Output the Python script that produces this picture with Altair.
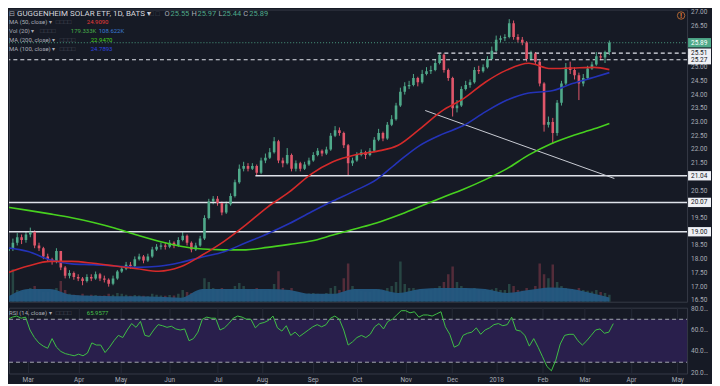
import altair as alt
import pandas as pd

# ---------------- data ----------------
FIRST_BAR = -11          # trading-day index of first 2-day candle (0 = 1 Mar 2017)
BAR_STEP = 2
first_open = 18.3
close = [18.4, 18.6, 18.8, 18.7, 18.9, 19.0, 18.5, 18.4, 18.1, 18.0,
         17.9, 18.3, 17.7, 17.4, 17.5, 17.35, 17.3, 17.2, 17.35, 17.3,
         17.45, 17.3, 17.25, 17.1, 17.3, 17.55, 17.65, 17.8, 17.75, 18.0,
         18.1, 17.95, 18.1, 18.35, 18.45, 18.5, 18.45, 18.6, 18.5, 18.7,
         18.85, 18.6, 18.35, 18.5, 18.75, 19.5, 20.1, 20.2, 20.05, 19.7,
         20.0, 20.3, 20.8, 21.3, 21.4, 21.3, 21.4, 21.15, 21.6, 21.7,
         21.9, 22.3, 21.6, 21.5, 21.8, 21.3, 21.5, 21.3, 21.45, 21.6,
         21.8, 21.95, 21.85, 22.0, 22.5, 22.7, 22.6, 22.15, 21.5, 21.6,
         21.8, 21.9, 21.8, 21.95, 22.35, 22.6, 22.4, 22.9, 23.1, 23.6,
         24.1, 24.3, 24.35, 24.6, 24.45, 24.75, 24.85, 24.9, 25.15, 25.45,
         24.9, 24.6, 23.5, 23.6, 24.2, 24.35, 24.45, 24.9, 24.85, 25.0,
         25.3, 25.6, 26.0, 26.05, 26.1, 26.6, 26.1, 26.0, 25.9, 25.3,
         25.5, 25.2, 24.4, 22.9, 23.0, 22.6, 23.7, 24.4, 25.0, 24.9,
         24.7, 24.4, 24.6, 24.95, 25.1, 25.4, 25.35, 25.55, 25.89]
high = [18.6, 18.75, 18.95, 18.9, 19.0, 19.15, 19.05, 18.6, 18.45, 18.2,
        18.05, 18.4, 18.3, 17.75, 17.6, 17.55, 17.45, 17.35, 17.45, 17.45,
        17.55, 17.5, 17.4, 17.3, 17.4, 17.6, 17.75, 17.9, 17.9, 18.1,
        18.2, 18.15, 18.2, 18.45, 18.55, 18.6, 18.6, 18.7, 18.65, 18.8,
        19.0, 18.9, 18.65, 18.6, 18.85, 19.6, 20.2, 20.3, 20.3, 20.1,
        20.1, 20.4, 20.9, 21.45, 21.55, 21.5, 21.5, 21.45, 21.7, 21.85,
        22.05, 22.45, 22.35, 21.7, 22.05, 21.85, 21.6, 21.55, 21.55, 21.7,
        21.9, 22.05, 22.0, 22.1, 22.6, 22.85, 22.8, 22.65, 22.2, 21.7,
        21.9, 22.0, 21.95, 22.05, 22.45, 22.75, 22.65, 23.0, 23.25, 23.7,
        24.25, 24.45, 24.5, 24.75, 24.65, 24.9, 25.0, 25.05, 25.3, 25.51,
        25.5, 24.95, 24.65, 23.8, 24.3, 24.5, 24.55, 25.0, 25.05, 25.1,
        25.4, 25.75, 26.15, 26.15, 26.2, 26.75, 26.7, 26.2, 26.1, 25.95,
        25.6, 25.55, 25.25, 24.45, 23.2, 23.15, 23.8, 24.5, 25.15, 25.2,
        25.0, 24.8, 24.75, 25.05, 25.2, 25.55, 25.5, 25.6, 25.97]
low = [18.1, 18.3, 18.5, 18.55, 18.6, 18.8, 18.4, 18.3, 18.0, 17.9,
       17.8, 17.85, 17.6, 17.3, 17.3, 17.25, 17.2, 17.05, 17.15, 17.2,
       17.25, 17.2, 17.15, 17.0, 17.05, 17.25, 17.5, 17.6, 17.65, 17.7,
       17.95, 17.85, 17.9, 18.05, 18.3, 18.35, 18.35, 18.4, 18.4, 18.45,
       18.65, 18.5, 18.25, 18.3, 18.45, 18.7, 19.45, 20.0, 19.95, 19.6,
       19.65, 19.95, 20.25, 20.75, 21.2, 21.2, 21.25, 21.04, 21.1, 21.5,
       21.65, 21.85, 21.5, 21.35, 21.45, 21.2, 21.2, 21.2, 21.25, 21.4,
       21.55, 21.75, 21.75, 21.8, 21.95, 22.45, 22.5, 22.05, 21.05, 21.4,
       21.55, 21.75, 21.65, 21.75, 21.9, 22.3, 22.3, 22.35, 22.85, 23.05,
       23.55, 24.0, 24.2, 24.3, 24.3, 24.4, 24.7, 24.75, 24.85, 25.1,
       24.8, 24.5, 23.2, 23.35, 23.55, 24.15, 24.25, 24.4, 24.75, 24.8,
       24.95, 25.25, 25.55, 25.9, 25.95, 26.05, 26.0, 25.9, 25.8, 25.2,
       25.25, 25.1, 24.3, 22.65, 22.8, 22.2, 22.5, 23.6, 24.35, 24.75,
       24.55, 23.8, 24.3, 24.55, 24.9, 25.05, 25.25, 25.15, 25.44]
volume = [800, 825, 300, 250, 300, 350, 400, 300, 250, 250,
          300, 350, 525, 300, 200, 180, 160, 200, 150, 180,
          170, 150, 160, 200, 180, 220, 200, 180, 150, 170,
          160, 150, 140, 200, 180, 160, 150, 170, 160, 200,
          300, 250, 220, 200, 250, 600, 500, 350, 300, 350,
          300, 320, 400, 475, 400, 300, 280, 350, 300, 280,
          320, 450, 775, 350, 300, 350, 250, 220, 200, 210,
          220, 200, 190, 220, 350, 400, 300, 600, 975, 400,
          300, 280, 260, 250, 300, 320, 280, 350, 400, 500,
          1025, 450, 350, 350, 300, 320, 300, 300, 350, 400,
          500, 700, 900, 500, 400, 350, 300, 350, 300, 280,
          300, 320, 350, 300, 300, 450, 400, 300, 280, 350,
          300, 400, 975, 700, 600, 950, 500, 400, 350, 300,
          300, 350, 300, 280, 260, 300, 250, 220, 179]
rsi = [65, 70, 72, 73, 71, 72, 60, 53, 48, 45,
       43, 52, 44, 40, 38, 37, 36, 37.5, 36, 38.5,
       48, 46, 46, 39, 44, 50, 55, 53, 60, 66,
       62.5, 68, 55, 54, 60, 65, 64, 62.5, 63.5, 61,
       60, 61, 50, 52, 58, 70, 72, 71, 71, 60,
       62, 66, 71, 73, 72, 70, 70, 62, 66, 67,
       69, 73, 62, 59, 64, 55, 58, 54, 57, 60,
       63, 65, 63, 65, 71, 73, 70, 60, 46, 49,
       53, 55, 53, 56, 63, 66, 61, 68, 70, 74,
       78, 78, 76, 77, 72, 74, 74, 73, 75, 77,
       63, 56, 44, 46, 55, 57, 58, 62, 56, 60,
       62, 65, 66, 64, 65, 72, 60, 59, 55, 45,
       52, 44, 35, 26, 22, 32, 47, 55, 56, 56,
       50, 46, 50, 55, 60, 61, 57, 58, 65.96]

ma_bar = [-12, -2, 8, 18, 28, 38, 48, 58, 68, 78, 88, 98, 108, 118, 128,
          138, 148, 158, 168, 178, 188, 198, 208, 218, 228, 238, 248, 258, 265]
ma50 = [17.49, 17.75, 17.92, 17.92, 17.85, 17.75, 17.65, 17.56, 17.72, 18.15,
        18.65, 19.25, 19.9, 20.45, 21.1, 21.55, 21.8, 21.93, 22.15, 22.75,
        23.4, 23.85, 24.45, 24.9, 25.14, 24.95, 24.97, 24.99, 24.91]
ma100 = [18.42, 18.28, 17.98, 17.83, 17.8, 17.75, 17.7, 17.74, 17.88, 18.08,
         18.27, 18.6, 18.93, 19.3, 19.72, 20.12, 20.49, 20.9, 21.55, 22.15,
         22.55, 22.87, 23.37, 23.8, 24.06, 24.13, 24.4, 24.63, 24.8]
ma200 = [19.9, 19.78, 19.65, 19.51, 19.34, 19.13, 18.88, 18.65, 18.47, 18.37,
         18.34, 18.34, 18.43, 18.54, 18.66, 18.88, 19.1, 19.32, 19.6, 19.92,
         20.24, 20.55, 20.9, 21.3, 21.8, 22.2, 22.5, 22.75, 22.95]
vol_ma = [100, 325, 325, 175, 150, 138, 138, 125, 100, 325,
          325, 325, 325, 300, 200, 200, 325, 325, 225, 325,
          350, 350, 325, 225, 300, 362, 325, 200, 109]

month_ticks = [0, 23, 42, 64, 86, 106, 129, 149, 171, 192, 212, 233, 252, 273, 294]
month_labels = ["Mar", "Apr", "May", "Jun", "Jul", "Aug", "Sep", "Oct", "Nov",
                "Dec", "2018", "Feb", "Mar", "Apr", "May"]
price_ticks = [16.5, 17.0, 17.5, 18.0, 18.5, 19.0, 19.5, 20.0, 20.5, 21.0, 21.5,
               22.0, 22.5, 23.0, 23.5, 24.0, 24.5, 25.0, 25.5, 26.0, 26.5, 27.0]
price_labels = [16.5, 17.0, 17.5, 18.0, 18.5, 19.5, 20.5, 21.5, 22.0, 22.5,
                23.0, 23.5, 24.0, 24.5, 25.0, 26.5, 27.0]
rsi_ticks = [20, 40, 60, 80]

solid_levels = [21.04, 20.07, 19.00]
solid_from = [102.4, -12, -12]
dashed_levels = [25.51, 25.27]
dashed_from = [186, -12]
last_price = 25.89
trend_bar = [180.4, 267.3]
trend_price = [23.42, 20.94]
box_levels = [25.89, 25.51, 25.27, 21.04, 20.07, 19.00]
box_kind = ["last", "line", "line", "line", "line", "line"]

# ---------------- styling ----------------
W, H1, H2 = 680, 293, 66
BG = "#161a25"
GRID = "#252936"
TXT = "#a9acb6"
UP = "#4fa98a"
DN = "#e0566a"
RED = "#d42a2a"
BLUE = "#2433b8"
GREEN = "#47d11f"
BOXC = "#4a4e5a"
FONT = "Roboto"
VBASE = 16.45

bars = [FIRST_BAR + BAR_STEP * i for i in range(len(close))]
opens = [first_open] + close[:-1]
df = pd.DataFrame(dict(bar=bars, open=opens, close=close, high=high, low=low,
                       vol=volume, rsi=rsi))
ma_df = pd.DataFrame(dict(bar=ma_bar, ma50=ma50, ma100=ma100, ma200=ma200, vma=vol_ma))

xscale = alt.Scale(domain=[-8.5, 298.4], nice=False, zero=False)
yscale = alt.Scale(domain=[VBASE, 27.1], nice=False, zero=False)
rscale = alt.Scale(domain=[19.5, 80.8], nice=False, zero=False)

month_expr = ("[" + ",".join("'%s'" % m for m in month_labels) + "][indexof(["
              + ",".join(str(t) for t in month_ticks) + "], datum.value)]")

x_grid_axis = alt.Axis(values=month_ticks, labels=False, ticks=False, domain=False,
                       grid=True, gridColor=GRID, title=None)
x_lab_axis = alt.Axis(values=month_ticks, labelExpr=month_expr, ticks=False,
                      domain=False, grid=True, gridColor=GRID, title=None,
                      labelColor=TXT, labelFontSize=6.5, labelPadding=3, labelFont=FONT)
price_axis = alt.Axis(orient="right", values=price_ticks, labels=False, grid=True,
                      gridColor=GRID, ticks=False, domain=False, title=None)
rsi_axis = alt.Axis(orient="right", values=rsi_ticks, labels=False, grid=True,
                    gridColor=GRID, ticks=False, domain=False, title=None)


def X(field, axis=None):
    return alt.X(field, scale=xscale, axis=axis)


def Y(field, axis=None):
    return alt.Y(field, scale=yscale, axis=axis)


def label(text, x, y, color, size=6, weight="normal"):
    return alt.Chart(pd.DataFrame({"t": [text]})).mark_text(
        align="left", baseline="middle", font=FONT, fontSize=size,
        fontWeight=weight, color=color).encode(
        x=alt.value(x), y=alt.value(y), text="t:N")


dir_color = alt.condition("datum.close >= datum.open", alt.value(UP), alt.value(DN))
base = alt.Chart(df)

vol_bars = base.transform_calculate(vy="%s + datum.vol / 700" % VBASE).mark_bar(
    size=2.5, opacity=0.3, clip=True).encode(
    x=X("bar:Q"), y=Y("vy:Q"), y2=alt.datum(VBASE), color=dir_color)
vol_area = alt.Chart(ma_df).transform_calculate(vy="%s + datum.vma / 700" % VBASE).mark_area(
    color="#245a82", opacity=0.95, interpolate="monotone", clip=True).encode(
    x=X("bar:Q"), y=Y("vy:Q"), y2=alt.datum(VBASE))

hl_solid = alt.Chart(pd.DataFrame({"lvl": solid_levels, "start": solid_from})).mark_rule(
    color="#dfe2ea", strokeWidth=1.5, clip=True).encode(
    x=X("start:Q"), x2=alt.value(W), y=Y("lvl:Q"))
hl_dash = alt.Chart(pd.DataFrame({"lvl": dashed_levels, "start": dashed_from})).mark_rule(
    color="#dfe2ea", strokeWidth=1.2, strokeDash=[4, 3], clip=True).encode(
    x=X("start:Q"), x2=alt.value(W), y=Y("lvl:Q"))
hl_last = alt.Chart(pd.DataFrame({"lvl": [last_price]})).mark_rule(
    color=UP, strokeWidth=1, strokeDash=[1, 2], opacity=0.9).encode(
    x=alt.value(0), x2=alt.value(W), y=Y("lvl:Q"))
trend = alt.Chart(pd.DataFrame({"bar": trend_bar, "p": trend_price})).mark_line(
    color="#c9ccd4", strokeWidth=1, clip=True).encode(x=X("bar:Q"), y=Y("p:Q"))

wick = base.mark_rule(strokeWidth=1, clip=True).encode(
    x=X("bar:Q", x_grid_axis), y=Y("low:Q", price_axis), y2="high:Q", color=dir_color)
body = base.mark_bar(size=2.6, clip=True).encode(
    x=X("bar:Q"), y=Y("open:Q"), y2="close:Q", color=dir_color)

ma_lines = [
    alt.Chart(ma_df).mark_line(color=c, strokeWidth=1.6, interpolate="monotone",
                               clip=True).encode(x=X("bar:Q"), y=Y(f + ":Q"))
    for f, c in [("ma200", GREEN), ("ma100", BLUE), ("ma50", RED)]
]

price_tick_text = alt.Chart(pd.DataFrame({"v": price_labels})).transform_calculate(
    lab="format(datum.v, '.2f')").mark_text(
    align="left", baseline="middle", font=FONT, fontSize=6.5, color=TXT).encode(
    x=alt.value(W + 4), y=Y("v:Q"), text="lab:N")

box_df = pd.DataFrame({"level": box_levels, "kind": box_kind})
boxes = alt.Chart(box_df).transform_calculate(
    top="datum.level + 0.17", bot="datum.level - 0.17").mark_rect().encode(
    x=alt.value(W + 1), x2=alt.value(W + 24), y=Y("top:Q"), y2="bot:Q",
    color=alt.condition("datum.kind == 'last'", alt.value(UP), alt.value("#eef0f5")))
box_text = alt.Chart(box_df).transform_calculate(
    lab="format(datum.level, '.2f')").mark_text(
    align="left", baseline="middle", font=FONT, fontSize=6.5).encode(
    x=alt.value(W + 4), y=Y("level:Q"), text="lab:N",
    color=alt.condition("datum.kind == 'last'", alt.value("#ffffff"), alt.value("#131722")))

warn_circle = alt.Chart(pd.DataFrame({"t": [1]})).mark_point(
    shape="circle", size=55, color="#f0873a", strokeWidth=1).encode(
    x=alt.value(674), y=alt.value(6))
warn_text = label("!", 672.8, 6, "#f0873a", 7, "bold")

header = [
    label("⊟", 0, 4.5, TXT, 7),
    label("GUGGENHEIM SOLAR ETF, 1D, BATS ▾", 8, 4.5, "#d6d8de", 8),
    label("□ □", 141, 4.5, BOXC, 7),
    label("O", 156, 4.5, TXT, 7.5), label("25.55", 162, 4.5, UP, 7.5),
    label("H", 183, 4.5, TXT, 7.5), label("25.97", 189, 4.5, UP, 7.5),
    label("L", 210, 4.5, TXT, 7.5), label("25.44", 214, 4.5, UP, 7.5),
    label("C", 235, 4.5, TXT, 7.5), label("25.89", 241, 4.5, UP, 7.5),
    label("MA (50, close) ▾", 0, 13, TXT), label("□□□□", 47, 13, BOXC, 6.5),
    label("24.9090", 78, 13, "#e23a3a"),
    label("Vol (20) ▾", 0, 22, TXT), label("□□□□", 31, 22, BOXC, 6.5),
    label("179.333K", 62, 22, "#47b04a"), label("108.622K", 90, 22, "#3a7bd5"),
    label("MA (200, close) ▾", 0, 31, TXT), label("□□□□", 51, 31, BOXC, 6.5),
    label("22.9470", 82, 31, GREEN),
    label("MA (100, close) ▾", 0, 40, TXT), label("□□□□", 51, 40, BOXC, 6.5),
    label("24.7893", 82, 40, "#2f45e0"),
]

price = alt.layer(
    wick, vol_bars, vol_area, hl_solid, hl_dash, hl_last, trend, body,
    *ma_lines, price_tick_text, boxes, box_text, warn_circle, warn_text, *header
).properties(width=W, height=H1)

# ---------------- RSI pane ----------------
rbase = alt.Chart(df)
band = alt.Chart(pd.DataFrame({"top": [70], "bot": [30]})).mark_rect(color="#291f4c").encode(
    x=alt.value(0), x2=alt.value(W),
    y=alt.Y("top:Q", scale=rscale, axis=None), y2="bot:Q")
rsi_rules = alt.Chart(pd.DataFrame({"lvl": [70, 30]})).mark_rule(
    color="#a3a6b0", strokeDash=[4, 3], strokeWidth=1).encode(
    x=alt.value(0), x2=alt.value(W), y=alt.Y("lvl:Q", scale=rscale, axis=None))
rsi_line = rbase.mark_line(color="#3fbf45", strokeWidth=1, clip=True).encode(
    x=X("bar:Q", x_lab_axis), y=alt.Y("rsi:Q", scale=rscale, axis=rsi_axis))
rsi_tick_text = alt.Chart(pd.DataFrame({"v": rsi_ticks})).transform_calculate(
    lab="format(datum.v, '.4f')").mark_text(
    align="left", baseline="middle", font=FONT, fontSize=6.5, color=TXT,
    limit=20, ellipsis="").encode(
    x=alt.value(W + 4), y=alt.Y("v:Q", scale=rscale, axis=None), text="lab:N")
rsi_labels = [
    label("RSI (14, close) ▾", 0, 5, TXT), label("□□□□", 47, 5, BOXC, 6.5),
    label("65.9577", 78, 5, "#47c14a"),
]
rsi_pane = alt.layer(band, rsi_rules, rsi_line, rsi_tick_text, *rsi_labels).properties(
    width=W, height=H2)

chart = alt.vconcat(price, rsi_pane, spacing=0).properties(
    padding={"left": 0, "top": 0, "right": 0, "bottom": 0}
).configure(background=BG, font=FONT).configure_view(stroke="#363a46", strokeWidth=1)

chart.save("out.html", embed_options={"renderer": "svg", "actions": False})
